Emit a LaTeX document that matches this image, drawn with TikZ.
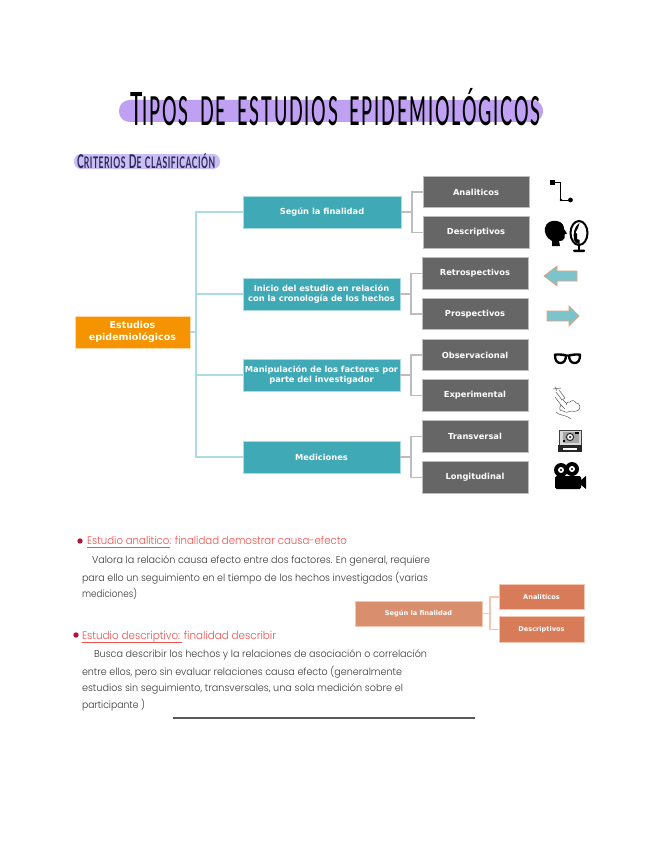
\documentclass[tikz,border=0pt]{standalone}
\usepackage{fontspec}
\usepackage{graphicx}
\setmainfont{DejaVu Sans}
\newfontfamily\titlefont{Lato}[LetterSpace=10,WordSpace=1.8,UprightFont=* Medium]
\newfontfamily\subfont{Lato}[LetterSpace=6,WordSpace=1.3,UprightFont=* Bold]
\newfontfamily\handfont{Poppins Light}
\newfontfamily\boxfont{DejaVu Sans}[UprightFont=* Bold]
\definecolor{teal1}{HTML}{3FA9B5}
\definecolor{teal2}{HTML}{A9DDE3}
\definecolor{orange1}{HTML}{F59300}
\definecolor{orange2}{HTML}{FFD9A6}
\definecolor{gray1}{HTML}{666666}
\definecolor{gray2}{HTML}{BDBDBD}
\definecolor{sal1}{HTML}{D98F6E}
\definecolor{sal2}{HTML}{D87B58}
\definecolor{sal3}{HTML}{F6C6B2}
\definecolor{hlA}{HTML}{BFA0F2}
\definecolor{hlB}{HTML}{CBBEF6}
\definecolor{redtxt}{HTML}{F0504C}
\definecolor{bullet}{HTML}{B3143A}
\definecolor{inktxt}{HTML}{3A3A3A}
\definecolor{arrowfill}{HTML}{7CC4CB}
\definecolor{arrowline}{HTML}{E8A27E}
\definecolor{subink}{HTML}{2A2A55}
\newcommand{\fitw}[2]{\resizebox{#1pt}{\height}{#2}}
\newcommand{\titB}[1]{{\fontsize{46}{46}\selectfont #1}}
\newcommand{\subB}[1]{{\fontsize{19}{19}\selectfont #1}}
\tikzset{
  x=1pt,y=-1pt,
  boxbase/.style={draw,line width=0.7pt,outer sep=0pt,inner sep=0pt,align=center,text=white,font=\boxfont\fontsize{8.3}{10.8}\selectfont},
  rootbox/.style={boxbase,fill=orange1,draw=orange2,minimum width=115pt,minimum height=32pt,font=\boxfont\fontsize{9.5}{12.5}\selectfont},
  tealbox/.style={boxbase,fill=teal1,draw=teal2,minimum width=157pt,minimum height=32pt},
  graybox/.style={boxbase,fill=gray1,draw=gray2,minimum width=106pt,minimum height=31.5pt},
  salmain/.style={boxbase,fill=sal1,draw=sal3,minimum width=127pt,minimum height=25pt,font=\boxfont\fontsize{6.6}{8}\selectfont},
  salsub/.style={boxbase,fill=sal2,draw=sal3,minimum width=85pt,minimum height=25.5pt,font=\boxfont\fontsize{6.6}{8}\selectfont},
  tealline/.style={draw=teal2,line width=1.2pt},
  grayline/.style={draw=gray2,line width=1.2pt},
  salline/.style={draw=sal3,line width=1.2pt},
  handline/.style={anchor=base west,inner sep=0pt,outer sep=0pt,text=inktxt,font=\handfont\fontsize{10}{12}\selectfont},
  headline/.style={handline,text=redtxt,font=\handfont\fontsize{11}{13}\selectfont},
  bigarrow/.style={fill=arrowfill,draw=arrowline,line width=0.7pt,line join=miter},
  thinicon/.style={draw=black!65,line width=0.5pt,line cap=round,line join=round},
}
\begin{document}
\begin{tikzpicture}
\useasboundingbox (0,0) rectangle (648,848);
\fill[white] (0,0) rectangle (648,848);
% title
\fill[hlA,rounded corners=10.5pt] (119,100) rectangle (543,122);
\node[anchor=base west,inner sep=0pt] (title) at (130,125) {\fitw{410}{\titlefont\fontsize{40}{40}\selectfont \titB{T}IPOS DE ESTUDIOS EPIDEMIOLÓGICOS}};
\fill[hlB,rounded corners=7pt] (74,154) rectangle (220,169);
\node[anchor=base west,inner sep=0pt,text=subink] (subtitle) at (77,168) {\fitw{138}{\subfont\fontsize{16}{17}\selectfont \subB{C}RITERIOS \subB{D}E CLASIFICACIÓN}};
% main tree
\node[rootbox] (root) at (132.5,332) {Estudios\\epidemiológicos};
\node[tealbox,minimum width=158pt] (n1) at (322,212) {Según la finalidad};
\node[tealbox] (n2) at (321.5,294) {Inicio del estudio en relación\\con la cronología de los hechos};
\node[tealbox] (n3) at (321.5,375) {Manipulación de los factores por\\parte del investigador};
\node[tealbox] (n4) at (321.5,457) {Mediciones};
\coordinate (trunk) at (196,332);
\draw[tealline] (root.east) -- (trunk);
\draw[tealline] (trunk) |- (n1.west);
\draw[tealline] (trunk) |- (n2.west);
\draw[tealline] (trunk) |- (n3.west);
\draw[tealline] (trunk) |- (n4.west);
% gray boxes
\node[graybox] (a1) at (476,192) {Analiticos};
\node[graybox] (a2) at (476,232.5) {Descriptivos};
\node[graybox] (b1) at (475,273.5) {Retrospectivos};
\node[graybox] (b2) at (475,314) {Prospectivos};
\node[graybox] (c1) at (475,355) {Observacional};
\node[graybox] (c2) at (475,395.5) {Experimental};
\node[graybox] (d1) at (475,436.5) {Transversal};
\node[graybox] (d2) at (475,477.5) {Longitudinal};
\coordinate (ja) at (412,212);
\coordinate (jb) at (411,294);
\coordinate (jc) at (411,375);
\coordinate (jd) at (411,457);
\draw[grayline] (n1.east) -- (ja); \draw[grayline] (ja) |- (a1.west); \draw[grayline] (ja) |- (a2.west);
\draw[grayline] (n2.east) -- (jb); \draw[grayline] (jb) |- (b1.west); \draw[grayline] (jb) |- (b2.west);
\draw[grayline] (n3.east) -- (jc); \draw[grayline] (jc) |- (c1.west); \draw[grayline] (jc) |- (c2.west);
\draw[grayline] (n4.east) -- (jd); \draw[grayline] (jd) |- (d1.west); \draw[grayline] (jd) |- (d2.west);
% icon: route
\fill[black] (550,179.5) rectangle (555,184.5);
\draw[black,line width=1pt] (555,182) -- (560,182) -- (560,200) -- (570,200);
\fill[black] (570.5,200) circle (2.4pt);
\fill[black] (561,200) circle (1.4pt);
% icon: head and mirror
\fill[black] (552,246) -- (552,241) .. controls (546,238) and (544,232) .. (545,228) .. controls (546,222) and (552,220) .. (557,221) .. controls (562,222) and (564,225) .. (564,229) -- (567,233.5) -- (564.5,234.5) -- (564.5,238) .. controls (564,241) and (561,241) .. (559,241) -- (560,246) -- cycle;
\draw[black,line width=2pt,fill=white] (579,233) ellipse (8.5pt and 12pt);
\fill[black] (579.5,223) .. controls (574,226) and (573,234) .. (574,240) .. controls (575,243) and (578,244) .. (579.5,244) -- (579.5,240) -- (577,239) -- (577,234) -- (575.5,232.5) -- (578,228) -- cycle;
\fill[black] (578,245) rectangle (580,250);
\fill[black,rounded corners=1pt] (573,249.5) rectangle (585,252);
% icon: arrows
\draw[bigarrow] (544,276) -- (557,266) -- (557,271) -- (577,271) -- (577,281) -- (557,281) -- (557,286) -- cycle;
\draw[bigarrow] (579,316) -- (569,306) -- (569,311) -- (547,311) -- (547,321) -- (569,321) -- (569,326) -- cycle;
% icon: glasses
\draw[black,line width=2.4pt,line join=round] (554,355) .. controls (557,354) and (563,354.5) .. (566,355.5) -- (569,355.5) .. controls (573,354.5) and (578,354) .. (581,355);
\draw[black,line width=2.3pt] (555,355) .. controls (555,360.5) and (557,363) .. (560.5,363) .. controls (564,363) and (566,360) .. (566,355);
\draw[black,line width=2.3pt] (569,355) .. controls (569,360) and (571,363) .. (574.5,363) .. controls (578,363) and (580,360.5) .. (580,355);
% icon: syringe and cloud
\draw[thinicon] (553,389) -- (561,388);
\draw[thinicon] (555,387) -- (557,391);
\draw[thinicon] (556,392) -- (562,400) -- (565,398) -- (559,390);
\draw[thinicon] (555,397) -- (561,405) -- (565,409);
\draw[thinicon] (563,400) -- (567,404);
\draw[thinicon] (561,405) .. controls (559,408) and (559,411) .. (563,411) .. controls (566,413) and (569,412) .. (571,411) .. controls (575,412) and (580,411) .. (580,407) .. controls (580,404) and (578,403) .. (576,403) .. controls (575,400) and (571,400) .. (570,402) .. controls (568,401) and (566,403) .. (566,405);
\draw[thinicon] (556,412) .. controls (559,416) and (565,414) .. (571,419);
% icon: polaroid
\draw[black!75,line width=1pt,fill=black!15] (559,430) rectangle (581,445);
\fill[black!35] (563,432) rectangle (579,443);
\draw[black!85,line width=1pt,fill=white] (570,437) circle (3.6pt);
\fill[black!70] (570,437) circle (1.5pt);
\fill[black] (563,440) rectangle (564.5,442);
\fill[black] (575,431.5) rectangle (579,433.5);
\fill[black!85] (558,445) rectangle (582,452);
\fill[white] (563,447.5) rectangle (577,449.5);
% icon: movie camera
\fill[black] (561,470) circle (7pt);
\fill[black] (572,469) circle (7pt);
\foreach \cx/\cy in {561/470,572/469}{
  \fill[white] (\cx,\cy) circle (3pt);
  \fill[black] (\cx,\cy) circle (1.1pt);
}
\fill[black,rounded corners=1.5pt] (555,476) rectangle (581,489);
\fill[black] (581,480) -- (586,476) -- (586,489) -- (581,485) -- cycle;
% handwritten text
\fill[bullet] (80,541) circle (2.7pt);
\node[headline] (h1) at (87,544) {\fitw{260}{Estudio analítico: finalidad demostrar causa-efecto}};
\draw[redtxt,line width=1.2pt] (87,547.5) -- (170,547.5);
\node[handline] (l1) at (92,563) {\fitw{338}{Valora la relación causa efecto entre dos factores. En general, requiere}};
\node[handline] (l2) at (82,581) {\fitw{346}{para ello un seguimiento en el tiempo de los hechos investigados (varias}};
\node[handline] (l3) at (82,597) {\fitw{55}{mediciones)}};
\fill[bullet] (76,635) circle (2.7pt);
\node[headline] (h2) at (82,639) {\fitw{194}{Estudio descriptivo: finalidad describir}};
\draw[redtxt,line width=1.2pt] (82,642.5) -- (182,642.5);
\node[handline] (l4) at (94,657) {\fitw{333}{Busca describir los hechos y la relaciones de asociación o correlación}};
\node[handline] (l5) at (82,675) {\fitw{320}{entre ellos, pero sin evaluar relaciones causa efecto (generalmente}};
\node[handline] (l6) at (82,691) {\fitw{321}{estudios sin seguimiento, transversales, una sola medición sobre el}};
\node[handline] (l7) at (82,708) {\fitw{63}{participante )}};
\coordinate (ruleA) at (173,718);
\coordinate (ruleB) at (475,718);
\draw[black!65,line width=1.4pt] (ruleA) -- (ruleB);
% small tree
\node[salmain] (s0) at (418.5,613.5) {Según la finalidad};
\node[salsub] (s1) at (541.5,597) {Analiticos};
\node[salsub] (s2) at (541.5,629.5) {Descriptivos};
\coordinate (js) at (490,613.5);
\draw[salline] (s0.east) -- (js);
\draw[salline] (js) |- (s1.west);
\draw[salline] (js) |- (s2.west);
\end{tikzpicture}
\end{document}
